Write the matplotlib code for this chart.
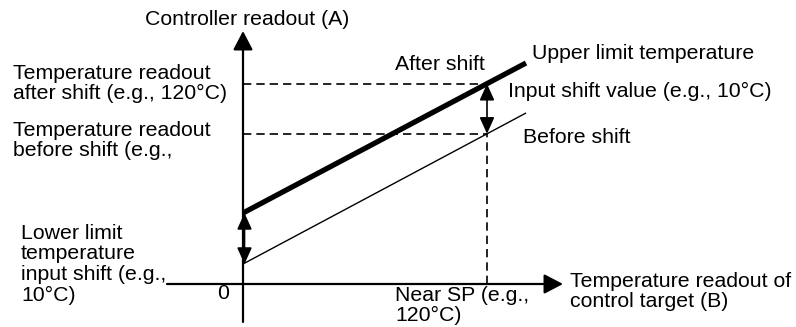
import matplotlib.pyplot as plt

# schematic values (arbitrary units, origin at the axes crossing)
x_ends = [0, 283]
before_shift = [20, 171]
after_shift = [71, 221]
near_sp = 244
shift_value = 50

plt.rcParams['font.family'] = ['Liberation Sans', 'DejaVu Sans']
fs = 15.3

fig = plt.figure(figsize=(7.96, 3.27), dpi=100)
ax = fig.add_axes([0, 0, 1, 1])
ax.set_xlim(-243, 553)
ax.set_ylim(-43, 284)
ax.axis('off')


def line_at(xs, ys, x):
    return ys[0] + (ys[1] - ys[0]) * (x - xs[0]) / (xs[1] - xs[0])


y_before_sp = line_at(x_ends, before_shift, near_sp)
y_after_sp = y_before_sp + shift_value

# axes with arrows
ax.annotate('', xy=(320, 0), xytext=(-76, 0),
            arrowprops=dict(arrowstyle='-|>,head_length=1.15,head_width=0.6',
                            mutation_scale=10, lw=1.6, color='black',
                            shrinkA=0, shrinkB=0))
ax.annotate('', xy=(0, 253), xytext=(0, -38),
            arrowprops=dict(arrowstyle='-|>,head_length=1.15,head_width=0.6',
                            mutation_scale=10, lw=1.6, color='black',
                            shrinkA=0, shrinkB=0))

# before / after shift lines
ax.plot(x_ends, before_shift, color='black', lw=1.0, solid_capstyle='butt')
ax.plot(x_ends, after_shift, color='black', lw=3.8, solid_capstyle='butt')

# dashed guides
dash = (0, (5, 3))
ax.plot([0, near_sp], [y_after_sp, y_after_sp], color='black', lw=1.2, linestyle=dash)
ax.plot([0, near_sp], [y_before_sp, y_before_sp], color='black', lw=1.2, linestyle=dash)
ax.plot([near_sp, near_sp], [0, y_before_sp], color='black', lw=1.2, linestyle=dash)

# shift arrows
arr = dict(arrowstyle='<|-|>,head_length=1.0,head_width=0.45', mutation_scale=10,
           lw=1.2, color='black', shrinkA=0, shrinkB=0)
ax.annotate('', xy=(near_sp, y_after_sp), xytext=(near_sp, y_before_sp), arrowprops=arr)
ax.annotate('', xy=(1.5, after_shift[0]), xytext=(1.5, before_shift[0]), arrowprops=arr)

# labels
def label(px, py, s, ls=1.05):
    ax.text(px - 243, 284 - py, s, fontsize=fs, va='baseline', ha='left',
            linespacing=ls)


label(145, 25, 'Controller readout (A)')
label(13, 99, 'Temperature readout\nafter shift (e.g., 120°C)')
label(13, 156, 'Temperature readout\nbefore shift (e.g.,')
label(21, 301, 'Lower limit\ntemperature\ninput shift (e.g.,\n10°C)', ls=1.12)
label(217, 299, '0')
label(395, 70, 'After shift')
label(532, 59, 'Upper limit temperature')
label(508, 97, 'Input shift value (e.g., 10°C)')
label(523, 143, 'Before shift')
label(395, 321, 'Near SP (e.g.,\n120°C)')
label(570, 307, 'Temperature readout of\ncontrol target (B)')

fig.savefig('out.png', dpi=100)
